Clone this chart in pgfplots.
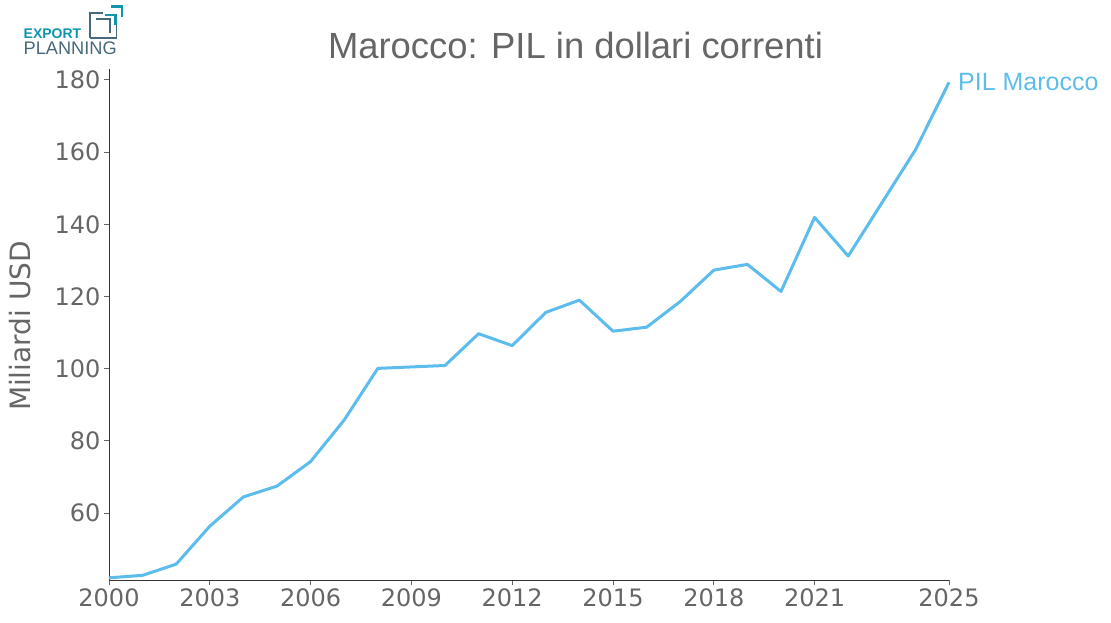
\documentclass[border=0pt]{standalone}
\usepackage{fontspec}
\setmainfont{DejaVu Sans}
\newfontfamily\titlefont{Liberation Sans}
\usepackage{pgfplots}
\pgfplotsset{compat=1.18}
\definecolor{txtgray}{RGB}{102,102,102}
\definecolor{spinegray}{RGB}{51,51,51}
\definecolor{lineblue}{RGB}{92,189,236}
\definecolor{logoteal}{RGB}{16,150,172}
\definecolor{logoblue}{RGB}{72,104,124}
\begin{document}
\begin{tikzpicture}[x=1pt,y=1pt]
\useasboundingbox (0,0) rectangle (1111,622);
% logo
\node[anchor=base west, inner sep=0, text=logoteal] at (23.5,583) {\titlefont\fontsize{14}{14}\selectfont\bfseries EXPORT};
\node[anchor=base west, inner sep=0, text=logoblue] at (23.5,567) {\titlefont\fontsize{18.2}{18}\selectfont PLANNING};
\draw[logoblue, line width=1.3pt] (90,584) -- (90,609) -- (103,609);
\draw[logoblue, line width=1.3pt] (116.5,598) -- (116.5,584) -- (90,584);
\draw[logoblue, line width=1.1pt] (96,603) -- (110,603) -- (110,589);
\draw[logoteal, line width=2.5pt] (105,607) -- (115.5,607) -- (115.5,597);
\draw[logoteal, line width=2.5pt] (110.5,615.5) -- (122,615.5) -- (122,605);
% title
\node[anchor=base, inner sep=0, text=txtgray] at (575.5,563.7) {\titlefont\fontsize{36.4}{36}\selectfont Marocco: PIL in dollari correnti};
% y label
\node[rotate=90, anchor=base, inner sep=0, text=txtgray] at (30,296) {\fontsize{28}{28}\selectfont Miliardi USD};
\begin{axis}[
  at={(109pt,42pt)}, anchor=south west,
  scale only axis, width=840pt, height=511pt,
  xmin=2000, xmax=2025, ymin=41.5, ymax=183,
  axis x line*=bottom, axis y line*=left,
  axis line style={spinegray, line width=1pt, -},
  xtick={2000,2003,2006,2009,2012,2015,2018,2021,2025},
  ytick={60,80,100,120,140,160,180},
  tick align=outside, major tick length=5pt,
  tick style={txtgray, line width=1pt},
  ticklabel style={font=\fontsize{24}{24}\selectfont, text=txtgray},
  /pgf/number format/1000 sep={},
  /pgf/number format/assume math mode=true,
  clip=false,
]
\addplot[lineblue, line width=3pt, line join=round] coordinates {
(2000,42.1) (2001,42.8) (2002,45.9) (2003,56.4) (2004,64.5) (2005,67.5)
(2006,74.3) (2007,85.8) (2008,100.1) (2009,100.5) (2010,100.9) (2011,109.7)
(2012,106.4) (2013,115.6) (2014,119.0) (2015,110.4) (2016,111.5) (2017,118.6)
(2018,127.3) (2019,128.9) (2020,121.4) (2021,141.9) (2022,131.2) (2023,145.9)
(2024,160.6) (2025,179.3)
};
\node[anchor=base west, inner sep=0, text=lineblue, xshift=9pt, yshift=-8.3pt] at (axis cs:2025,179.3) {\titlefont\fontsize{25}{25}\selectfont PIL Marocco};
\end{axis}
\end{tikzpicture}
\end{document}
